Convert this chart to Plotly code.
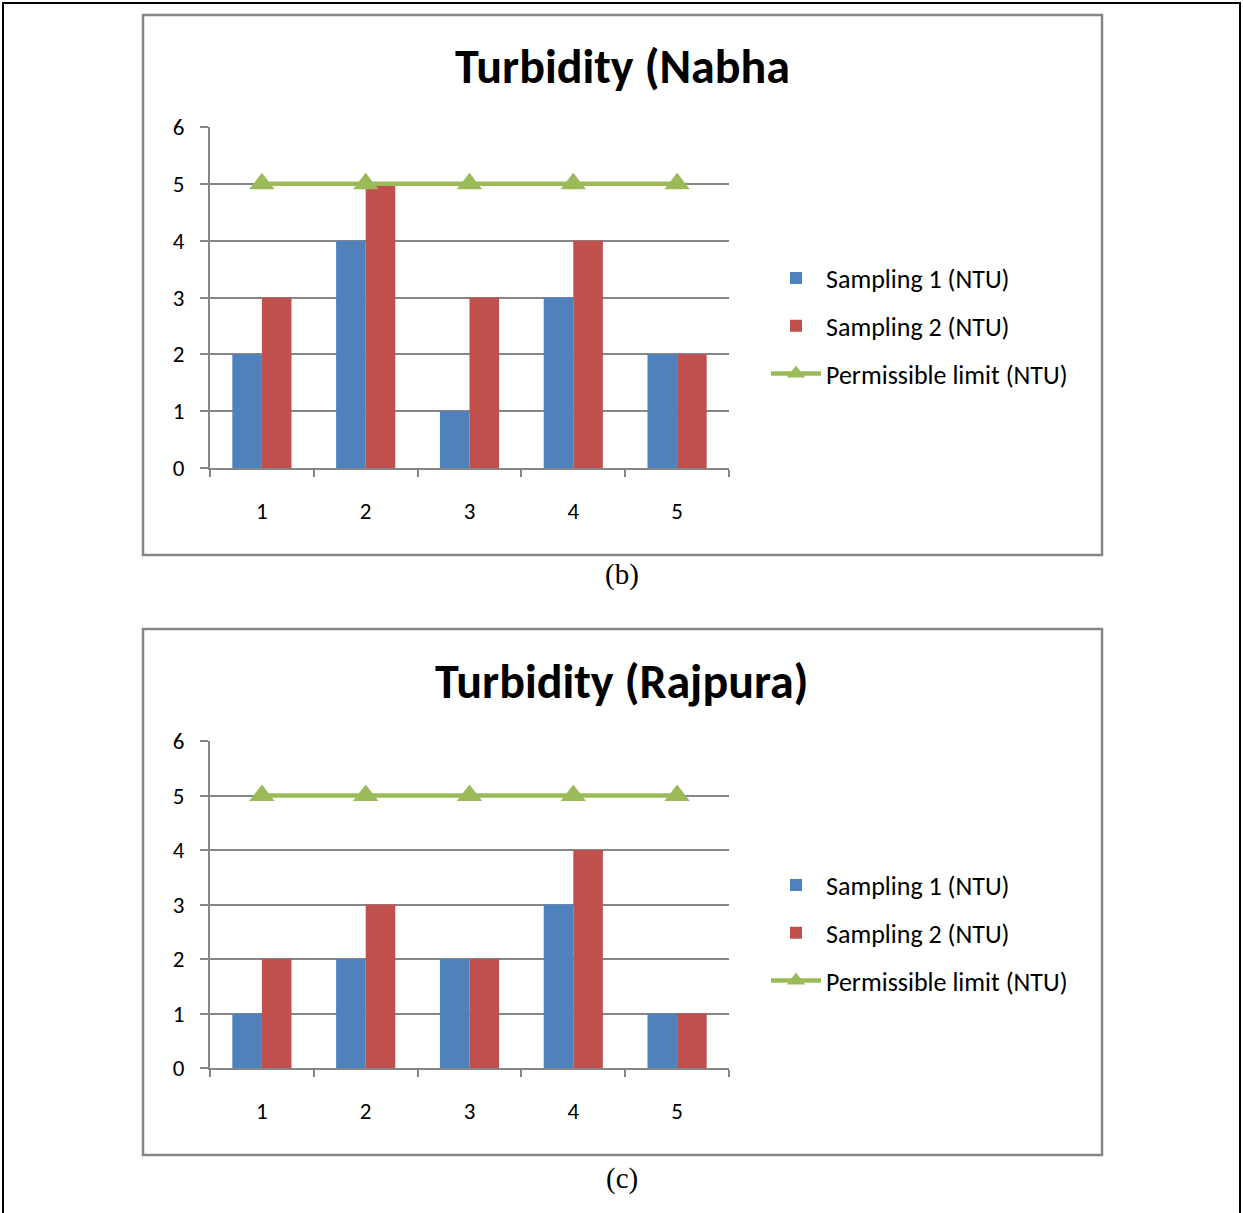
import plotly.graph_objects as go

W, H = 1243, 1213

categories = ["1", "2", "3", "4", "5"]
nabha_s1 = [2, 4, 1, 3, 2]
nabha_s2 = [3, 5, 3, 4, 2]
rajpura_s1 = [1, 2, 2, 3, 1]
rajpura_s2 = [2, 3, 2, 4, 1]
limit = [5, 5, 5, 5, 5]
titles = ["Turbidity (Nabha", "Turbidity (Rajpura)"]
captions = ["(b)", "(c)"]
names = ["Sampling 1 (NTU)", "Sampling 2 (NTU)", "Permissible limit (NTU)"]

BLUE, RED, GREEN, GRAY = "#4F81BD", "#C0504D", "#9BBB59", "#868686"
FONT = "Carlito, Lato, sans-serif"


def px(x):
    return x / W


def py(y):
    return 1 - y / H


fig = go.Figure()

panels = [
    dict(s1=nabha_s1, s2=nabha_s2, top=127, bot=468, box=(143, 15, 1102, 555),
         title_y=66, cap_y=575, leg_y=326),
    dict(s1=rajpura_s1, s2=rajpura_s2, top=741, bot=1068, box=(143, 629, 1102, 1155),
         title_y=681, cap_y=1178, leg_y=933),
]

shapes = []
annotations = []
for i, p in enumerate(panels):
    n = "" if i == 0 else str(i + 1)
    xa, ya = "x" + n, "y" + n
    leg = "legend" if i == 0 else "legend2"
    fig.add_trace(go.Bar(x=categories, y=p["s1"], name=names[0], marker_color=BLUE,
                         marker_line_width=0, xaxis=xa, yaxis=ya, legend=leg,
                         legendgroup=f"a{i}"))
    fig.add_trace(go.Bar(x=categories, y=p["s2"], name=names[1], marker_color=RED,
                         marker_line_width=0, xaxis=xa, yaxis=ya, legend=leg,
                         legendgroup=f"b{i}"))
    fig.add_trace(go.Scatter(x=categories, y=limit, name=names[2], mode="lines+markers",
                             line=dict(color=GREEN, width=4.5),
                             marker=dict(symbol="triangle-up", size=22, color=GREEN),
                             xaxis=xa, yaxis=ya, legend=leg, legendgroup=f"c{i}"))
    xkey = "xaxis" + n
    ykey = "yaxis" + n
    fig.update_layout(**{
        xkey: dict(domain=[px(210), px(729)], anchor=ya, type="category",
                   range=[-0.5, 4.5], tickson="boundaries", ticks="outside", ticklen=7,
                   tickcolor=GRAY, tickwidth=1.8, showline=True, linecolor=GRAY,
                   linewidth=1.8, showgrid=False, ticklabelstandoff=21,
                   automargin=False,
                   tickfont=dict(family=FONT, size=23, color="black")),
        ykey: dict(domain=[py(p["bot"]), py(p["top"])], anchor=xa, range=[0, 6],
                   dtick=1, showgrid=True, gridcolor=GRAY, gridwidth=1.8,
                   ticks="outside", ticklen=8, tickcolor=GRAY, tickwidth=1.8,
                   showline=True, linecolor=GRAY, linewidth=1.8, zeroline=False,
                   ticklabelstandoff=11, automargin=False,
                   tickfont=dict(family=FONT, size=23, color="black")),
        leg: dict(x=px(766), y=py(p["leg_y"]), xanchor="left", yanchor="middle",
                  font=dict(family=FONT, size=26, color="black"),
                  traceorder="grouped", tracegroupgap=11, itemwidth=50,
                  bgcolor="rgba(0,0,0,0)"),
    })
    x0, y0, x1, y1 = p["box"]
    shapes.append(dict(type="rect", xref="paper", yref="paper", x0=px(x0), x1=px(x1),
                       y0=py(y1), y1=py(y0), line=dict(color=GRAY, width=2.5),
                       layer="below"))
    annotations.append(dict(text=f"<b>{titles[i]}</b>", xref="paper", yref="paper",
                            x=px(622), y=py(p["title_y"]), showarrow=False,
                            xanchor="center", yanchor="middle",
                            font=dict(family=FONT, size=48, color="black")))
    annotations.append(dict(text=captions[i], xref="paper", yref="paper",
                            x=px(622), y=py(p["cap_y"]), showarrow=False,
                            xanchor="center", yanchor="middle",
                            font=dict(family="Liberation Serif, serif", size=29,
                                      color="black")))

shapes.append(dict(type="rect", xref="paper", yref="paper", x0=px(3), x1=px(1240),
                   y0=py(1230), y1=py(3), line=dict(color="black", width=2)))

fig.update_layout(width=W, height=H, autosize=False,
                  margin=dict(l=0, r=0, t=0, b=0, autoexpand=False),
                  paper_bgcolor="white", plot_bgcolor="white",
                  barmode="group", bargap=0.43, bargroupgap=0,
                  showlegend=True, shapes=shapes, annotations=annotations)

fig.write_html("out.html", config={"displayModeBar": False},
               post_script="document.body.style.margin='0';document.body.style.overflow='hidden';")
